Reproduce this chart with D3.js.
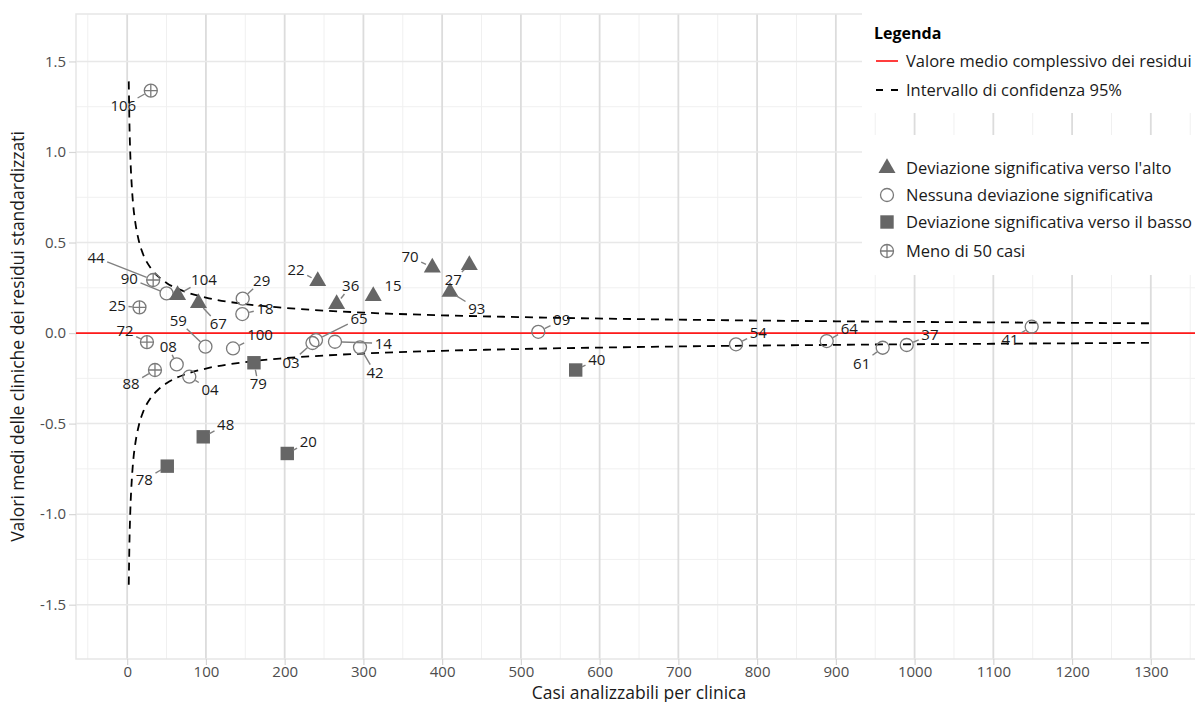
<!DOCTYPE html>
<html lang="it">
<head>
<meta charset="UTF-8">
<title>Residui standardizzati per clinica</title>
<script src="https://d3js.org/d3.v7.min.js"></script>
<style>
  body { margin: 0; background: #fff; }
  svg text { font-family: "Open Sans", "Noto Sans", sans-serif; }
  .tick text { fill: #4d4d4d; font-size: 15px; }
  .tick line { stroke: #d6d6d6; stroke-width: 1.2; }
  .domain { display: none; }
  .lab { font-size: 15px; fill: #1a1a1a; }
  .leg { font-size: 16.5px; fill: #1a1a1a; }
  .ttl { font-size: 17.5px; fill: #1a1a1a; }
</style>
</head>
<body>
<svg width="1195" height="702"></svg>
<script>
// clinics: id, analysable cases, mean standardised residual, group
const clinics   = ["106","44","90","104","67","29","18","22","36","15","70","27","93","25","72","59","100","08","04","88","79","03","65","14","42","48","78","20","09","40","54","64","61","37","41"];
const cases     = [30, 33, 50, 64, 90.5, 146.7, 146.2, 242, 266, 312.5, 387.5, 434.5, 410, 15.6, 25.1, 99.4, 134.4, 62.9, 78.9, 35.3, 161, 235.3, 239.8, 263.9, 295.7, 96.6, 50.9, 203.3, 522.1, 569.6, 773.2, 888.4, 959.5, 990, 1148.7];
const residuals = [1.339, 0.293, 0.219, 0.210, 0.166, 0.19, 0.105, 0.287, 0.160, 0.204, 0.362, 0.376, 0.227, 0.142, -0.050, -0.075, -0.085, -0.173, -0.241, -0.204, -0.164, -0.055, -0.039, -0.048, -0.079, -0.573, -0.735, -0.665, 0.007, -0.204, -0.062, -0.044, -0.081, -0.066, 0.035];
const groups    = ["few","few","none","up","up","none","none","up","up","up","up","up","up","few","few","none","none","none","none","few","down","none","none","none","none","down","down","down","none","down","none","none","none","none","none"];

// where the repelled labels sit (data units)
const labelCases     = [-5, -39.6, 2.7, 97.5, 115.7, 170.8, 175, 214.4, 283.8, 337.6, 359.2, 414.1, 443.9, -12.6, -2.8, 64.9, 168.7, 52.2, 105.2, 4.8, 166.5, 208, 294.4, 325.2, 314.7, 125.1, 21.7, 230, 551.8, 596.3, 801.5, 917.1, 932.8, 1019.5, 1121.2];
const labelResiduals = [1.254, 0.418, 0.302, 0.297, 0.050, 0.289, 0.136, 0.352, 0.260, 0.260, 0.422, 0.293, 0.136, 0.151, 0.013, 0.068, -0.011, -0.076, -0.311, -0.282, -0.282, -0.162, 0.081, -0.057, -0.219, -0.508, -0.811, -0.601, 0.072, -0.145, 0.002, 0.026, -0.167, -0.011, -0.035];

// 95% confidence band half-width
const ciCases = [2, 3, 4, 6, 8, 10, 15, 20, 30, 40, 50, 75, 100, 150, 200, 300, 400, 500, 700, 900, 1100, 1300];
const ciHalf  = [1.39, 1.13, 0.98, 0.80, 0.69, 0.62, 0.506, 0.438, 0.358, 0.31, 0.277, 0.226, 0.196, 0.160, 0.139, 0.113, 0.098, 0.088, 0.074, 0.065, 0.059, 0.054];
const overallMean = 0;

const xTicks = d3.range(0, 1301, 100);
const xMinor = d3.range(-50, 1351, 100);
const yTicks = [-1.5, -1, -0.5, 0, 0.5, 1, 1.5];
const yMinor = [-1.25, -0.75, -0.25, 0.25, 0.75, 1.25];

const legendLines = ["Valore medio complessivo dei residui", "Intervallo di confidenza 95%"];
const legendShapes = ["Deviazione significativa verso l'alto", "Nessuna deviazione significativa", "Deviazione significativa verso il basso", "Meno di 50 casi"];
const shapeKeys = ["up", "none", "down", "few"];

const svg = d3.select("svg");
const pLeft = 76, pRight = 1202, pTop = 14, pBottom = 659;

const x = d3.scaleLinear().domain([-65, 1365]).range([pLeft, pRight]);
const y = d3.scaleLinear().domain([-1.8, 1.762]).range([pBottom, pTop]);

// grid
const grid = svg.append("g");
grid.selectAll(".vmin").data(xMinor).enter().append("line")
    .attr("x1", d => x(d)).attr("x2", d => x(d)).attr("y1", pTop).attr("y2", pBottom)
    .attr("stroke", "#f0f0f0").attr("stroke-width", 1);
grid.selectAll(".hmin").data(yMinor).enter().append("line")
    .attr("x1", pLeft).attr("x2", pRight).attr("y1", d => y(d)).attr("y2", d => y(d))
    .attr("stroke", "#f0f0f0").attr("stroke-width", 1);
grid.selectAll(".vmaj").data(xTicks).enter().append("line")
    .attr("x1", d => x(d)).attr("x2", d => x(d)).attr("y1", pTop).attr("y2", pBottom)
    .attr("stroke", "#dcdcdc").attr("stroke-width", 1.8);
grid.selectAll(".hmaj").data(yTicks).enter().append("line")
    .attr("x1", pLeft).attr("x2", pRight).attr("y1", d => y(d)).attr("y2", d => y(d))
    .attr("stroke", "#e8e8e8").attr("stroke-width", 1.5);
svg.append("rect").attr("x", pLeft).attr("y", pTop)
    .attr("width", pRight - pLeft).attr("height", pBottom - pTop)
    .attr("fill", "none").attr("stroke", "#e6e6e6").attr("stroke-width", 1.5);

// axes
svg.append("g").attr("transform", `translate(0,${pBottom})`)
    .call(d3.axisBottom(x).tickValues(xTicks).tickSize(6).tickPadding(1).tickFormat(d3.format("d")));
svg.append("g").attr("transform", `translate(${pLeft},0)`)
    .call(d3.axisLeft(y).tickValues(yTicks).tickSize(7).tickPadding(3).tickFormat(d => d.toFixed(1)));

svg.append("text").attr("class", "ttl").attr("x", (pLeft + pRight) / 2).attr("y", 698.5)
    .attr("text-anchor", "middle").text("Casi analizzabili per clinica");
svg.append("text").attr("class", "ttl").attr("transform", `translate(24,${(pTop + pBottom) / 2}) rotate(-90)`)
    .attr("text-anchor", "middle").text("Valori medi delle cliniche dei residui standardizzati");

// mean line and confidence band
svg.append("line").attr("x1", pLeft).attr("x2", pRight)
    .attr("y1", y(overallMean)).attr("y2", y(overallMean))
    .attr("stroke", "#ff1a1a").attr("stroke-width", 1.7);

const ciLine = d3.line().curve(d3.curveMonotoneX);
[1, -1].forEach(s => {
    svg.append("path")
        .attr("d", ciLine(ciCases.map((n, i) => [x(n), y(overallMean + s * ciHalf[i])])))
        .attr("fill", "none").attr("stroke", "#000").attr("stroke-width", 1.8)
        .attr("stroke-dasharray", "8,6");
});

// markers
const dark = "#666666", ring = "#7a7a7a";
function drawMarker(g, kind) {
    if (kind === "up") {
        g.append("path").attr("d", d3.symbol(d3.symbolTriangle, 125)()).attr("fill", dark);
    } else if (kind === "down") {
        g.append("path").attr("d", d3.symbol(d3.symbolSquare, 180)()).attr("fill", dark);
    } else {
        g.append("circle").attr("r", 6.5).attr("fill", "none").attr("stroke", ring).attr("stroke-width", 1.3);
        if (kind === "few") {
            g.append("path").attr("d", "M-6.5,0H6.5M0,-6.5V6.5").attr("stroke", ring).attr("stroke-width", 1.3);
        }
    }
}

clinics.forEach((c, i) => {
    const g = svg.append("g").attr("transform", `translate(${x(cases[i])},${y(residuals[i])})`);
    drawMarker(g, groups[i]);
});

// label leader segments + labels
clinics.forEach((c, i) => {
    const px = x(cases[i]), py = y(residuals[i]);
    const lx = x(labelCases[i]), ly = y(labelResiduals[i]);
    const dx = px - lx, dy = py - ly;
    const len = Math.hypot(dx, dy);
    const hw = c.length * 4.6 + 2, hh = 8;
    const t = Math.min(dx ? hw / Math.abs(dx) : Infinity, dy ? hh / Math.abs(dy) : Infinity);
    const sx = lx + dx * t, sy = ly + dy * t;
    const ex = px - dx / len * 7, ey = py - dy / len * 7;
    if (t < 1 && Math.hypot(ex - sx, ey - sy) > 3 && (ex - sx) * dx + (ey - sy) * dy > 0) {
        svg.append("line").attr("x1", sx).attr("y1", sy).attr("x2", ex).attr("y2", ey)
            .attr("stroke", "#808080").attr("stroke-width", 1.4);
    }
    svg.append("text").attr("class", "lab").attr("x", lx).attr("y", ly)
        .attr("dy", "0.35em").attr("text-anchor", "middle").text(c);
});

// legend (two boxes over the panel)
const lg = svg.append("g");
lg.append("rect").attr("x", 862).attr("y", 0).attr("width", 340).attr("height", 113).attr("fill", "#fff");
lg.append("rect").attr("x", 862).attr("y", 135).attr("width", 340).attr("height", 140).attr("fill", "#fff");
lg.append("text").attr("x", 874).attr("y", 33).attr("dy", "0.35em")
    .style("font-size", "16px").style("font-weight", "bold").attr("fill", "#000").text("Legenda");

const lineRows = [61, 90];
lg.append("line").attr("x1", 876).attr("x2", 898).attr("y1", lineRows[0]).attr("y2", lineRows[0])
    .attr("stroke", "#ff1a1a").attr("stroke-width", 1.7);
lg.append("line").attr("x1", 876).attr("x2", 898).attr("y1", lineRows[1]).attr("y2", lineRows[1])
    .attr("stroke", "#000").attr("stroke-width", 1.8).attr("stroke-dasharray", "7,8");
legendLines.forEach((t, i) => {
    lg.append("text").attr("class", "leg").attr("x", 906).attr("y", lineRows[i]).attr("dy", "0.35em").text(t);
});

const shapeRows = [168, 195, 222, 251];
legendShapes.forEach((t, i) => {
    const g = lg.append("g").attr("transform", `translate(887,${shapeRows[i]})`);
    drawMarker(g, shapeKeys[i]);
    lg.append("text").attr("class", "leg").attr("x", 906).attr("y", shapeRows[i]).attr("dy", "0.35em").text(t);
});
</script>
</body>
</html>
